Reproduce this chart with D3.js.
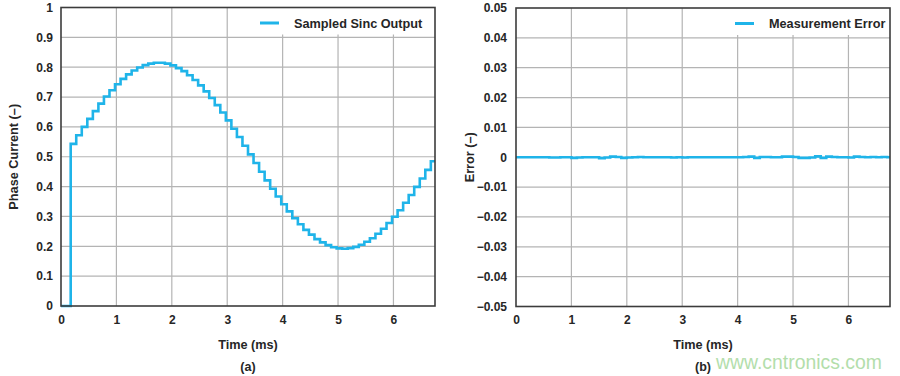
<!DOCTYPE html>
<html>
<head>
<meta charset="utf-8">
<script src="https://cdn.jsdelivr.net/npm/d3@7"></script>
<style>
  body { margin: 0; background: #fff; }
  svg { display: block; font-family: "Liberation Sans", Arial, sans-serif; }
  .tick text { font-size: 12px; font-weight: bold; fill: #262626; }
</style>
</head>
<body>
<svg width="900" height="376"></svg>
<script>
// sampled sinc output: one value per 0.1 ms sample, first sample at 0.175 ms
const sampleStart = 0.175;
const samplePeriod = 0.1;
const sincValues = [
  0.543, 0.572, 0.600, 0.627, 0.653, 0.678, 0.702, 0.723, 0.743, 0.761,
  0.776, 0.789, 0.799, 0.807, 0.812, 0.815, 0.815, 0.812, 0.806, 0.797,
  0.787, 0.773, 0.757, 0.739, 0.719, 0.697, 0.673, 0.648, 0.622, 0.594,
  0.566, 0.537, 0.508, 0.479, 0.450, 0.421, 0.393, 0.367, 0.341, 0.317,
  0.294, 0.274, 0.255, 0.239, 0.224, 0.213, 0.204, 0.197, 0.193, 0.192,
  0.194, 0.198, 0.205, 0.215, 0.227, 0.242, 0.259, 0.278, 0.299, 0.321,
  0.346, 0.372, 0.399, 0.427, 0.456, 0.485
];

// measurement error, every 0.1 ms from 0
const errPeriod = 0.1;
const errValues = [
  0, 0, 0, 0, 0, 0, -0.0001, -0.0001, 0, 0,
  -0.0002, -0.0001, 0, 0, 0, -0.0003, -0.0001, 0.0002, 0.0001, -0.0002,
  -0.0001, 0, 0.0001, 0, 0, 0, 0, 0, -0.0001, 0,
  -0.0001, 0, 0, 0, 0, 0, 0, 0, 0, 0,
  0, 0.0001, 0.0002, -0.0002, 0.0001, 0.0001, 0, 0, 0.0002, 0.0002,
  0.0001, -0.0002, -0.0002, -0.0001, 0.0003, -0.0002, 0.0002, 0.0001, 0, 0,
  -0.0001, 0.0002, 0.0001, 0, 0.0001, 0, 0.0001, 0
];

const xTicks = [0, 1, 2, 3, 4, 5, 6];
const yTicksA = [0, 0.1, 0.2, 0.3, 0.4, 0.5, 0.6, 0.7, 0.8, 0.9, 1];
const yTicksB = [-0.05, -0.04, -0.03, -0.02, -0.01, 0, 0.01, 0.02, 0.03, 0.04, 0.05];

const lineColor = "#1fb4e9";
const textColor = "#262626";
const svg = d3.select("svg");

function panel(opt) {
  const x = d3.scaleLinear().domain([0, 6.75]).range([opt.x0, opt.x1]);
  const y = d3.scaleLinear().domain(opt.yDomain).range([opt.y1, opt.y0]);
  const g = svg.append("g");

  // grid
  g.append("g").selectAll("line").data(xTicks.slice(1)).join("line")
    .attr("x1", d => x(d)).attr("x2", d => x(d))
    .attr("y1", opt.y0).attr("y2", opt.y1)
    .attr("stroke", "#b4b4b4").attr("stroke-width", 1.2);
  g.append("g").selectAll("line").data(opt.yTicks.slice(1, -1)).join("line")
    .attr("x1", opt.x0).attr("x2", opt.x1)
    .attr("y1", d => y(d)).attr("y2", d => y(d))
    .attr("stroke", "#b4b4b4").attr("stroke-width", 1.2);

  // legend box hides the grid under it
  g.append("rect").attr("x", opt.legX).attr("y", opt.y0)
    .attr("width", opt.x1 - opt.legX).attr("height", 27).attr("fill", "#fff");
  g.append("line").attr("x1", opt.legX + 9).attr("x2", opt.legX + 28)
    .attr("y1", opt.y0 + 15.5).attr("y2", opt.y0 + 15.5)
    .attr("stroke", lineColor).attr("stroke-width", 3);
  g.append("text").attr("x", opt.legX + 43).attr("y", opt.y0 + 20)
    .attr("font-size", 12.7).attr("font-weight", "bold").attr("fill", textColor)
    .text(opt.legend);

  // data
  const clipId = "clip" + opt.id;
  svg.append("clipPath").attr("id", clipId).append("rect")
    .attr("x", opt.x0).attr("y", opt.y0 - 2)
    .attr("width", opt.x1 - opt.x0).attr("height", opt.y1 - opt.y0 + 4);
  const line = d3.line().x(d => x(d[0])).y(d => y(d[1])).curve(d3.curveStepAfter);
  g.append("path").datum(opt.points)
    .attr("clip-path", `url(#${clipId})`)
    .attr("fill", "none").attr("stroke", lineColor)
    .attr("stroke-width", 2.6).attr("stroke-linejoin", "miter")
    .attr("d", line);

  // frame
  g.append("rect").attr("x", opt.x0).attr("y", opt.y0)
    .attr("width", opt.x1 - opt.x0).attr("height", opt.y1 - opt.y0)
    .attr("fill", "none").attr("stroke", "#3c3c3c").attr("stroke-width", 1.6);

  // axes
  const ax = g.append("g").attr("transform", `translate(0,${opt.y1})`)
    .call(d3.axisBottom(x).tickValues(xTicks).tickSize(0).tickPadding(9).tickFormat(d3.format("d")));
  ax.select(".domain").remove();
  ax.selectAll(".tick text").attr("dy", "0.71em").attr("font-size", 12.3);
  const ay = g.append("g").attr("transform", `translate(${opt.x0},0)`)
    .call(d3.axisLeft(y).tickValues(opt.yTicks).tickSize(0).tickPadding(opt.tickPad).tickFormat(opt.fmt));
  ay.select(".domain").remove();
  ay.selectAll(".tick text").attr("font-size", 12.3);

  // titles
  const cx = (opt.x0 + opt.x1) / 2;
  g.append("text").attr("x", cx).attr("y", 349).attr("text-anchor", "middle")
    .attr("font-size", 12.7).attr("font-weight", "bold").attr("fill", textColor)
    .text("Time (ms)");
  g.append("text").attr("x", cx).attr("y", 371).attr("text-anchor", "middle")
    .attr("font-size", 12.5).attr("font-weight", "bold").attr("fill", textColor)
    .text(opt.sub);
  g.append("text")
    .attr("transform", `translate(${opt.yTitleX},${(opt.y0 + opt.y1) / 2}) rotate(-90)`)
    .attr("text-anchor", "middle")
    .attr("font-size", 12.7).attr("font-weight", "bold").attr("fill", textColor)
    .text(opt.yTitle);
}

const sincPoints = [[0, 0]]
  .concat(sincValues.map((v, i) => [sampleStart + i * samplePeriod, v]));
sincPoints.push([6.8, sincValues[sincValues.length - 1]]);

const errPoints = errValues.map((v, i) => [i * errPeriod, v]);
errPoints.push([6.8, errValues[errValues.length - 1]]);

panel({
  id: "a", x0: 61, x1: 435, y0: 7.5, y1: 306, yDomain: [0, 1], yTicks: yTicksA,
  tickPad: 8, fmt: d => String(+d.toFixed(1)),
  legX: 251, legend: "Sampled Sinc Output",
  points: sincPoints, sub: "(a)", yTitle: "Phase Current (–)", yTitleX: 18
});

panel({
  id: "b", x0: 516, x1: 890, y0: 8, y1: 306.5, yDomain: [-0.05, 0.05], yTicks: yTicksB,
  tickPad: 9, fmt: d => Math.abs(d) < 1e-9 ? "0" : (d < 0 ? "\u2212" : "") + Math.abs(d).toFixed(2),
  legX: 726, legend: "Measurement Error",
  points: errPoints, sub: "(b)", yTitle: "Error (–)", yTitleX: 474
});

// watermark
svg.append("text").attr("x", 716).attr("y", 369)
  .attr("font-size", 19.4).attr("fill", "#b3deab")
  .attr("font-family", "'Liberation Sans', Arial, sans-serif")
  .text("www.cntronics.com");
</script>
</body>
</html>
